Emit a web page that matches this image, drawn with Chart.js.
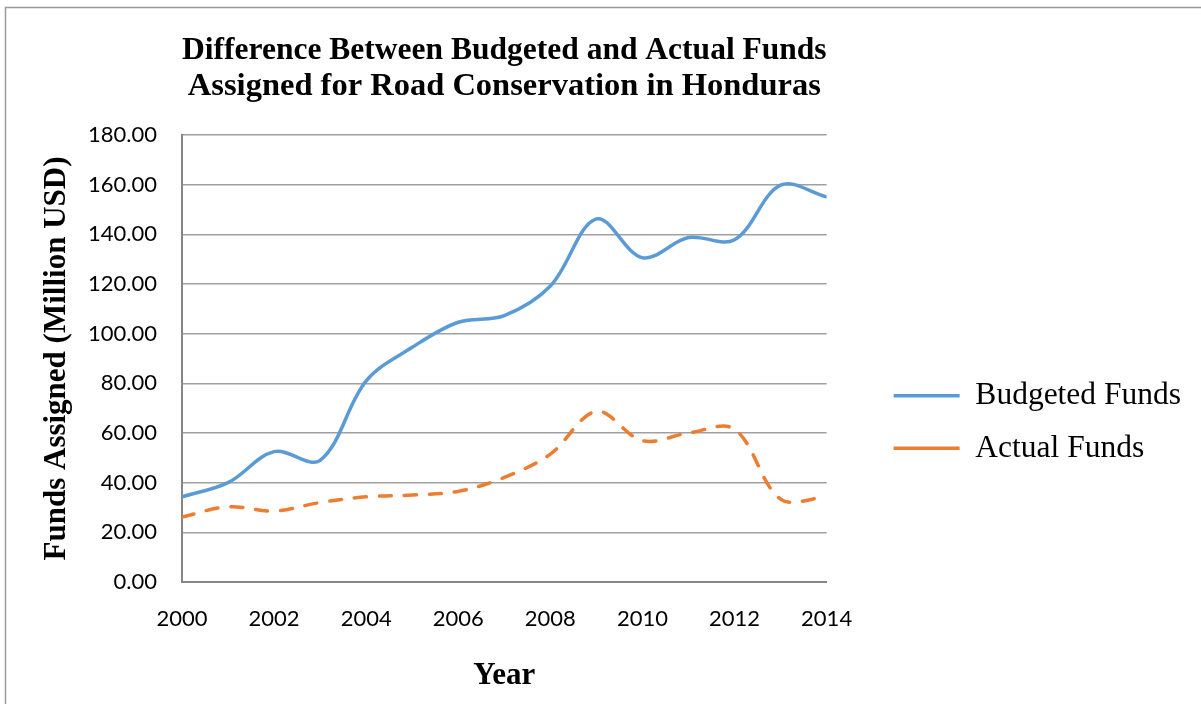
<!DOCTYPE html>
<html>
<head>
<meta charset="utf-8">
<title>Road Conservation Funds</title>
<script src="https://cdn.jsdelivr.net/npm/chart.js@4.4.1/dist/chart.umd.min.js"></script>
<style>
  html, body { margin: 0; padding: 0; background: #fff; overflow: hidden; }
  #fundsChart { display: block; }
</style>
</head>
<body>
<canvas id="fundsChart" width="1201" height="704"></canvas>
<script>
// Funds per year, million USD
const years = [2000, 2001, 2002, 2003, 2004, 2005, 2006, 2007, 2008, 2009, 2010, 2011, 2012, 2013, 2014];
const budgetedFunds = [34.3, 40, 52.5, 49, 81, 94.5, 104.6, 107.3, 119.2, 146.2, 130.6, 138.7, 137.8, 159.8, 155.1];
const actualFunds = [26.2, 30.3, 28.6, 32, 34.3, 35, 36.5, 42.1, 51.5, 68.7, 56.9, 60, 61.5, 33.4, 34.3];
const seriesNames = ["Budgeted Funds", "Actual Funds"];
const titleLines = ["Difference Between Budgeted and Actual Funds", "Assigned for Road Conservation in Honduras"];

function toPoints(values) {
  return values.map(function (v, i) { return { x: years[i], y: v }; });
}

// thin gray frame round the whole chart
const framePlugin = {
  id: "frame",
  beforeDraw(chart) {
    const ctx = chart.ctx;
    ctx.save();
    ctx.fillStyle = "#ffffff";
    ctx.fillRect(0, 0, chart.width, chart.height);
    ctx.strokeStyle = "#9b9b9b";
    ctx.lineWidth = 1.5;
    ctx.strokeRect(5.5, 7.5, chart.width + 20, chart.height + 20);
    ctx.restore();
  }
};

const serif = "'Liberation Serif', 'Times New Roman', serif";
const sans = "Lato, 'Noto Sans', sans-serif";

new Chart(document.getElementById("fundsChart"), {
  type: "line",
  data: {
    datasets: [
      {
        label: seriesNames[0],
        data: toPoints(budgetedFunds),
        borderColor: "#5B9BD5",
        backgroundColor: "#5B9BD5",
        borderWidth: 3.5,
        borderCapStyle: "round",
        tension: 0.35,
        pointRadius: 0,
        fill: false
      },
      {
        label: seriesNames[1],
        data: toPoints(actualFunds),
        borderColor: "#ED7D31",
        backgroundColor: "#ED7D31",
        borderWidth: 3.5,
        borderDash: [12, 13],
        borderCapStyle: "round",
        tension: 0.35,
        pointRadius: 0,
        fill: false
      }
    ]
  },
  options: {
    responsive: false,
    devicePixelRatio: 1,
    animation: false,
    layout: { padding: { left: 0, right: 10, top: 0, bottom: 0 } },
    plugins: {
      tooltip: { enabled: false },
      title: {
        display: true,
        text: titleLines,
        fullSize: false,
        color: "#000",
        font: { family: serif, size: 32.5, weight: "bold", lineHeight: 1.08 },
        padding: { top: 33.5, bottom: 31.3 }
      },
      legend: {
        position: "right",
        align: "center",
        maxWidth: 400,
        title: {
          display: true,
          text: "",
          font: { size: 1, lineHeight: 1 },
          padding: 69.5
        },
        labels: {
          usePointStyle: true,
          pointStyle: "line",
          pointStyleWidth: 66,
          padding: 21,
          color: "#000",
          font: { family: serif, size: 31.5 }
        }
      }
    },
    scales: {
      x: {
        type: "linear",
        min: 2000,
        max: 2014,
        grid: { display: false, drawTicks: false },
        border: { display: true, color: "#868686", width: 2 },
        ticks: {
          stepSize: 2,
          padding: 24,
          color: "#000",
          font: { family: sans, size: 22 },
          callback: function (value) { return String(value); }
        },
        title: {
          display: true,
          text: "Year",
          color: "#000",
          font: { family: serif, size: 31, weight: "bold" },
          padding: { top: 1.6, bottom: 9 }
        },
        afterFit: function (scale) { scale.height = 122; }
      },
      y: {
        min: 0,
        max: 180,
        grid: { color: "#a0a0a0", lineWidth: 1.4, drawTicks: false },
        border: { display: true, color: "#868686", width: 2 },
        ticks: {
          stepSize: 20,
          padding: 25,
          color: "#000",
          font: { family: sans, size: 22 },
          callback: function (value) { return value.toFixed(2); }
        },
        title: {
          display: true,
          text: "Funds Assigned (Million USD)",
          color: "#000",
          font: { family: serif, size: 31, weight: "bold" },
          padding: { top: 38, bottom: 0 }
        },
        afterFit: function (scale) { scale.width = 182; }
      },
      // empty strip between the plot and the legend
      gap: {
        type: "linear",
        position: "right",
        display: true,
        grid: { display: false },
        border: { display: false },
        ticks: { display: false },
        afterFit: function (scale) { scale.width = 46; }
      }
    }
  },
  plugins: [framePlugin]
});
</script>
</body>
</html>
